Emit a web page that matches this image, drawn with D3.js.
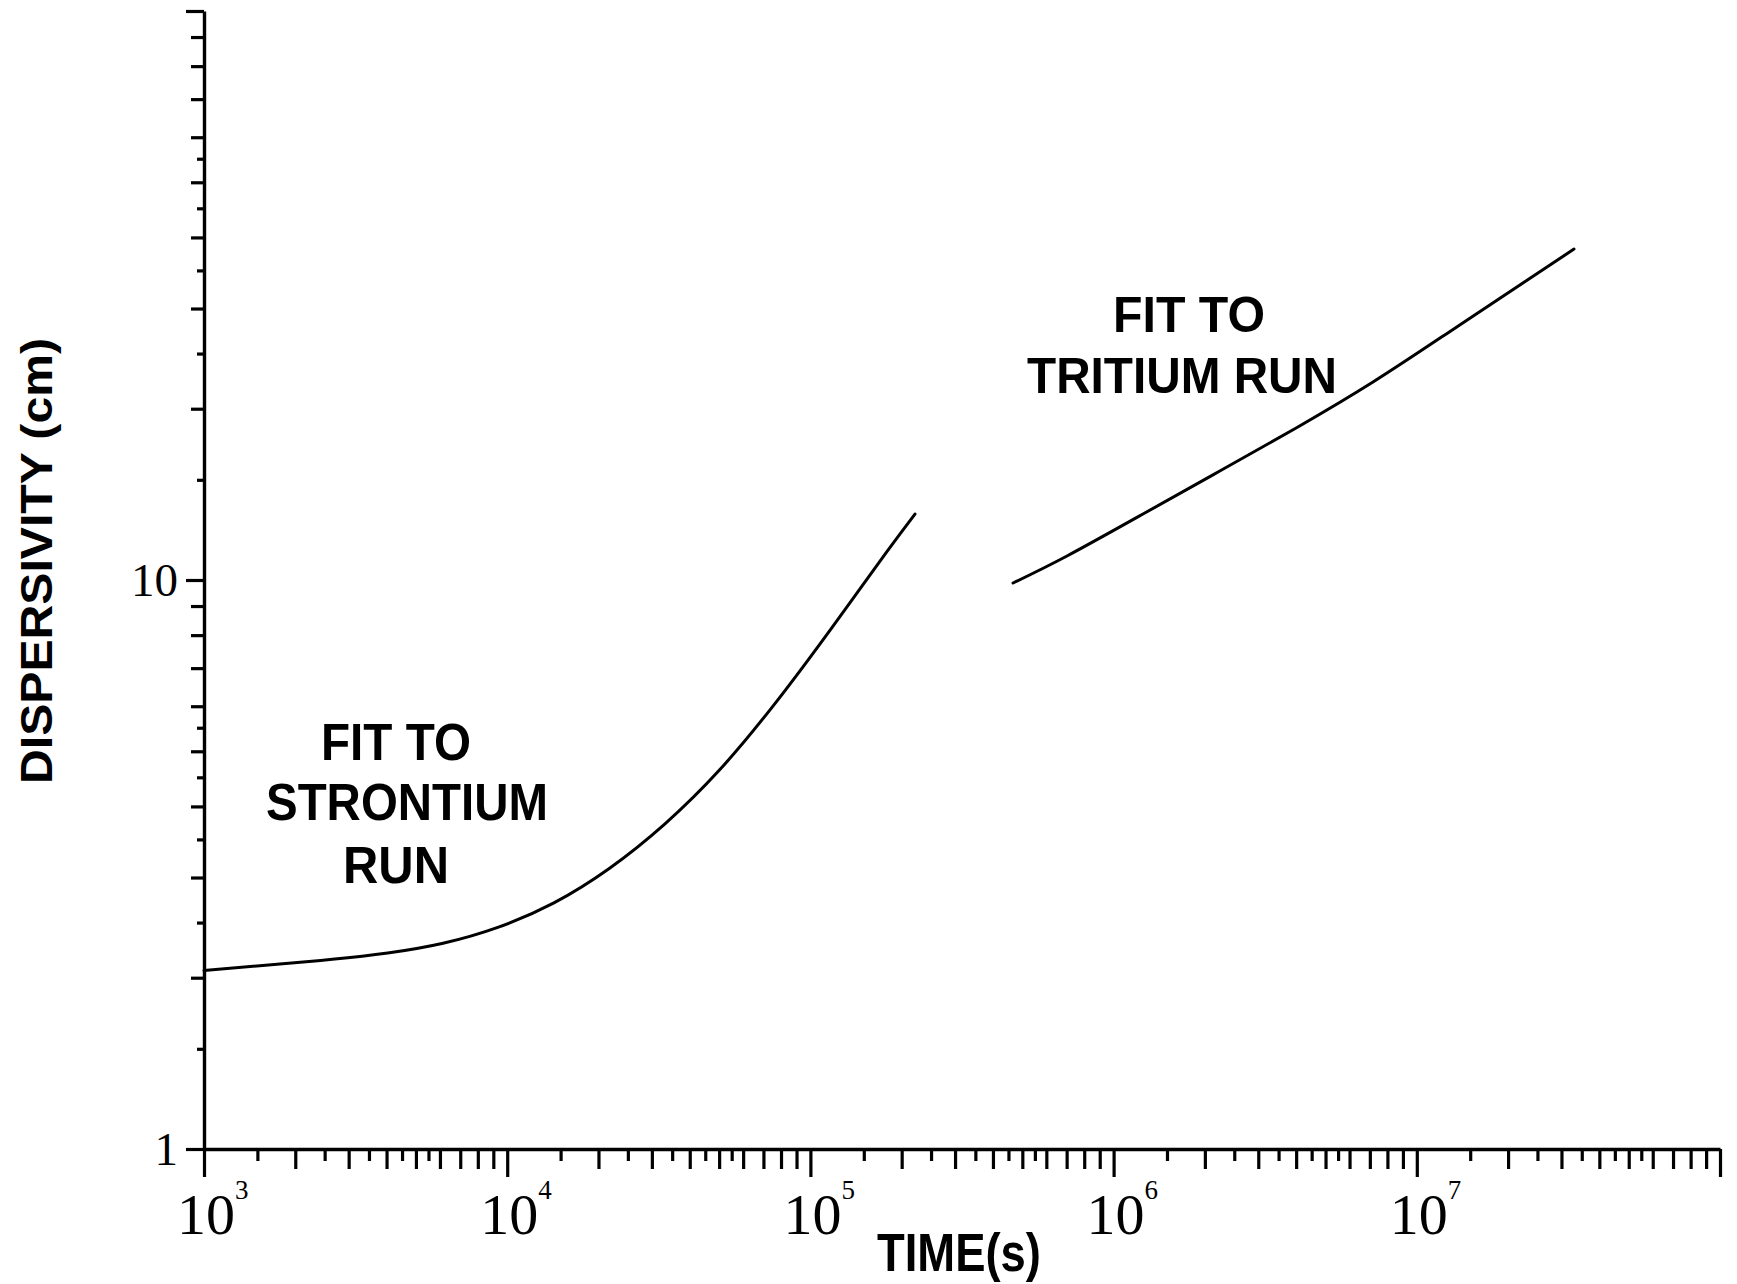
<!DOCTYPE html>
<html>
<head>
<meta charset="utf-8">
<script src="https://cdn.jsdelivr.net/npm/d3@7"></script>
<style>
  html, body { margin: 0; padding: 0; background: #fff; }
  svg { display: block; }
</style>
</head>
<body>
<svg id="chart" width="1737" height="1284"></svg>
<script>
// Fitted dispersivity (cm) versus time (s), strontium run
const strontiumTime = [1000, 1741, 2649, 4036, 6145, 9361, 14260, 21710, 33070, 50380, 76730, 116800, 177800, 221300];
const strontiumDisp = [2.060, 2.112, 2.155, 2.211, 2.300, 2.455, 2.708, 3.112, 3.724, 4.648, 6.083, 8.200, 11.17, 13.06];

// Fitted dispersivity (cm) versus time (s), tritium run
const tritiumTime = [466000, 702000, 1250000, 2240000, 4000000, 7170000, 12800000, 22900000, 33000000];
const tritiumDisp = [9.88, 11.02, 13.06, 15.54, 18.50, 22.28, 27.29, 33.54, 38.16];

// Axis ticks and labels
const xMajorTicks = [1e3, 1e4, 1e5, 1e6, 1e7, 1e8];
const xTickExponents = ["3", "4", "5", "6", "7"];
const yMajorTicks = [1, 10, 100];
const yTickLabels = ["1", "10"];
const wholeMantissas = [2, 3, 4, 5, 6, 7, 8, 9];
const halfMantissas = [1.5, 2.5, 3.5, 4.5, 5.5];

const svg = d3.select("#chart");

const x = d3.scaleLog().domain([1e3, 1e8]).range([204, 1720]);
const y = d3.scaleLog().domain([1, 100]).range([1149, 11]);

// minor tick values within each decade of a log scale
function decadeTicks(scale, mantissas) {
  const [lo, hi] = scale.domain();
  const out = [];
  for (let d = lo; d < hi; d *= 10) mantissas.forEach(m => out.push(m * d));
  return out;
}

function styleAxis(g) {
  g.selectAll("line").attr("stroke", "#000").attr("stroke-width", 3.2);
  g.selectAll("path.domain").attr("stroke", "#000").attr("stroke-width", 3.4);
  g.selectAll("text").remove();
}

// X axis: line, major, whole and half-decade ticks pointing down
const gx = svg.append("g").attr("transform", `translate(0,${y(1)})`);
gx.append("g").call(d3.axisBottom(x).tickValues(xMajorTicks).tickSize(28).tickSizeOuter(0).tickFormat("")).call(styleAxis);
gx.append("g").call(d3.axisBottom(x).tickValues(decadeTicks(x, wholeMantissas)).tickSize(20).tickSizeOuter(0).tickFormat("")).call(styleAxis).select(".domain").remove();
gx.append("g").call(d3.axisBottom(x).tickValues(decadeTicks(x, halfMantissas)).tickSize(12).tickSizeOuter(0).tickFormat("")).call(styleAxis).select(".domain").remove();

// Y axis: line, major, whole and half-decade ticks pointing left
const gy = svg.append("g").attr("transform", `translate(${x(1e3)},0)`);
gy.append("g").call(d3.axisLeft(y).tickValues(yMajorTicks).tickSize(18).tickSizeOuter(0).tickFormat("")).call(styleAxis);
gy.append("g").call(d3.axisLeft(y).tickValues(decadeTicks(y, wholeMantissas)).tickSize(13).tickSizeOuter(0).tickFormat("")).call(styleAxis).select(".domain").remove();
gy.append("g").call(d3.axisLeft(y).tickValues(decadeTicks(y, halfMantissas)).tickSize(7).tickSizeOuter(0).tickFormat("")).call(styleAxis).select(".domain").remove();

// Y tick labels
const serif = "'Liberation Serif', 'Times New Roman', serif";
svg.append("g").selectAll("text")
  .data(yTickLabels)
  .join("text")
  .attr("x", x(1e3) - 26)
  .attr("y", d => y(+d) + 16)
  .attr("text-anchor", "end")
  .attr("font-family", serif)
  .attr("font-size", 47)
  .attr("fill", "#000")
  .text(d => d);

// X tick labels: 10 with a raised exponent
const xl = svg.append("g").selectAll("g")
  .data(xTickExponents)
  .join("g")
  .attr("transform", d => `translate(${x(Math.pow(10, +d))},1234)`);
xl.append("text")
  .attr("x", 2)
  .attr("text-anchor", "middle")
  .attr("font-family", serif)
  .attr("font-size", 58)
  .attr("fill", "#000")
  .text("10");
xl.append("text")
  .attr("x", 31)
  .attr("y", -35)
  .attr("font-family", serif)
  .attr("font-size", 27)
  .attr("fill", "#000")
  .text(d => d);

// Curves
const line = d3.line()
  .x(d => x(d[0]))
  .y(d => y(d[1]))
  .curve(d3.curveNatural);

svg.append("path")
  .datum(d3.zip(strontiumTime, strontiumDisp))
  .attr("d", line)
  .attr("fill", "none")
  .attr("stroke", "#000")
  .attr("stroke-width", 3)
  .attr("stroke-linecap", "round");

svg.append("path")
  .datum(d3.zip(tritiumTime, tritiumDisp))
  .attr("d", line)
  .attr("fill", "none")
  .attr("stroke", "#000")
  .attr("stroke-width", 3)
  .attr("stroke-linecap", "round");

// Annotations and axis titles
const sans = "'Liberation Sans', Arial, Helvetica, sans-serif";
function label(txt, cx, base, width, size) {
  svg.append("text")
    .attr("x", cx)
    .attr("y", base)
    .attr("text-anchor", "middle")
    .attr("font-family", sans)
    .attr("font-weight", "bold")
    .attr("font-size", size)
    .attr("textLength", width)
    .attr("lengthAdjust", "spacingAndGlyphs")
    .attr("fill", "#000")
    .text(txt);
}

label("FIT TO", 396, 760, 150, 52);
label("STRONTIUM", 407, 820, 282, 52);
label("RUN", 396, 883, 106, 52);

label("FIT TO", 1189, 332, 152, 50);
label("TRITIUM RUN", 1182, 393, 310, 50);

label("TIME(s)", 959, 1271, 164, 54);

svg.append("text")
  .attr("transform", "translate(52,561) rotate(-90)")
  .attr("text-anchor", "middle")
  .attr("font-family", sans)
  .attr("font-weight", "bold")
  .attr("font-size", 45)
  .attr("textLength", 446)
  .attr("lengthAdjust", "spacingAndGlyphs")
  .attr("fill", "#000")
  .text("DISPERSIVITY (cm)");
</script>
</body>
</html>
